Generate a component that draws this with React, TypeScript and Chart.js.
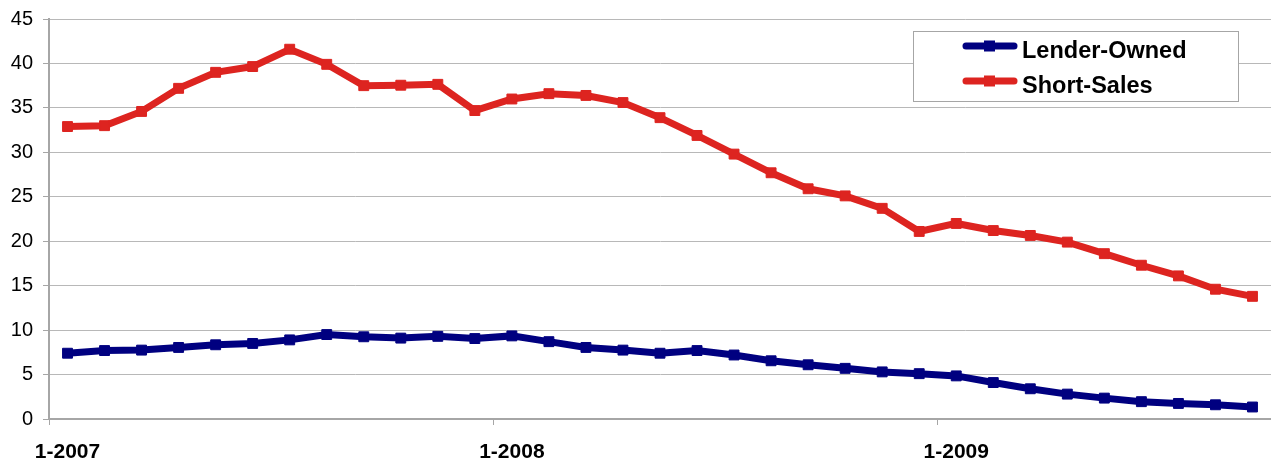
import React, { useEffect, useRef } from 'react';
import { Chart, registerables } from 'chart.js';

Chart.register(...registerables);

const months = [
  '1-2007', '2-2007', '3-2007', '4-2007', '5-2007', '6-2007', '7-2007', '8-2007', '9-2007', '10-2007', '11-2007', '12-2007',
  '1-2008', '2-2008', '3-2008', '4-2008', '5-2008', '6-2008', '7-2008', '8-2008', '9-2008', '10-2008', '11-2008', '12-2008',
  '1-2009', '2-2009', '3-2009', '4-2009', '5-2009', '6-2009', '7-2009', '8-2009', '9-2009',
];

const lenderOwned = [
  7.4, 7.7, 7.75, 8.05, 8.35, 8.5, 8.9, 9.5, 9.25, 9.1, 9.3, 9.05,
  9.35, 8.7, 8.05, 7.75, 7.4, 7.7, 7.2, 6.55, 6.1, 5.7, 5.3, 5.1,
  4.85, 4.1, 3.4, 2.8, 2.35, 1.95, 1.75, 1.6, 1.35,
];

const shortSales = [
  32.9, 33.0, 34.6, 37.2, 39.0, 39.65, 41.6, 39.9, 37.5, 37.55, 37.65, 34.7,
  36.0, 36.6, 36.4, 35.6, 33.9, 31.9, 29.8, 27.7, 25.9, 25.1, 23.7, 21.1,
  22.0, 21.2, 20.65, 19.9, 18.6, 17.3, 16.1, 14.6, 13.8,
];

const shownLabels = ['1-2007', '1-2008', '1-2009'];

const FONT = '"Liberation Sans", Arial, Helvetica, sans-serif';
const AXIS_GRAY = '#a6a6a6';
const GRID_GRAY = '#b8b8b8';

const boxLegend = {
  id: 'boxLegend',
  afterDraw(chart: any) {
    const ctx = chart.ctx;
    ctx.save();
    ctx.fillStyle = '#ffffff';
    ctx.fillRect(913, 31, 326, 71);
    ctx.strokeStyle = AXIS_GRAY;
    ctx.lineWidth = 1;
    ctx.strokeRect(913.5, 31.5, 325, 70);
    chart.data.datasets.forEach((ds: any, i: number) => {
      const y = 46 + i * 35;
      ctx.strokeStyle = ds.borderColor;
      ctx.lineWidth = 7;
      ctx.lineCap = 'round';
      ctx.beginPath();
      ctx.moveTo(966, y);
      ctx.lineTo(1014, y);
      ctx.stroke();
      ctx.fillStyle = ds.borderColor;
      ctx.fillRect(984, y - 5.5, 11, 11);
      ctx.fillStyle = '#000000';
      ctx.font = 'bold 23.5px ' + FONT;
      ctx.textAlign = 'left';
      ctx.textBaseline = 'alphabetic';
      ctx.fillText(ds.label, 1022, y + 12);
    });
    ctx.restore();
  },
};

export default function App() {
  const canvasRef = useRef<HTMLCanvasElement | null>(null);

  useEffect(() => {
    if (!canvasRef.current) return;
    const chart = new Chart(canvasRef.current, {
      type: 'line',
      data: {
        labels: months,
        datasets: [
          {
            label: 'Lender-Owned',
            data: lenderOwned,
            borderColor: '#000080',
            backgroundColor: '#000080',
            borderWidth: 7,
            pointStyle: 'rect',
            pointRadius: 7,
            pointBorderWidth: 1,
            pointBackgroundColor: '#000080',
            pointBorderColor: '#000080',
            tension: 0,
          },
          {
            label: 'Short-Sales',
            data: shortSales,
            borderColor: '#dd2420',
            backgroundColor: '#dd2420',
            borderWidth: 7,
            pointStyle: 'rect',
            pointRadius: 7,
            pointBorderWidth: 1,
            pointBackgroundColor: '#dd2420',
            pointBorderColor: '#dd2420',
            tension: 0,
          },
        ],
      },
      options: {
        responsive: false,
        animation: false,
        layout: { autoPadding: false, padding: { top: 19, left: 0, right: -2, bottom: 0 } },
        plugins: {
          legend: { display: false },
          tooltip: { enabled: false },
        },
        scales: {
          x: {
            type: 'category',
            offset: true,
            grid: {
              offset: true,
              drawOnChartArea: false,
              drawTicks: true,
              tickLength: 6,
              color: (ctx: any) => (ctx.index % 12 === 0 ? AXIS_GRAY : 'rgba(0,0,0,0)'),
            },
            border: { display: true, color: AXIS_GRAY, width: 2 },
            ticks: {
              autoSkip: false,
              maxRotation: 0,
              minRotation: 0,
              padding: 15,
              color: '#000000',
              font: { family: FONT, size: 21, weight: 'bold' },
              callback: function (this: any, value: any) {
                const lab = months[value as number];
                return shownLabels.includes(lab) ? lab : '';
              },
            },
            afterFit: (scale: any) => {
              scale.height = 43;
              scale.paddingLeft = 0;
              scale.paddingRight = 0;
            },
          },
          y: {
            min: 0,
            max: 45,
            ticks: {
              stepSize: 5,
              padding: 10,
              color: '#000000',
              font: { family: FONT, size: 20 },
            },
            grid: {
              color: GRID_GRAY,
              lineWidth: 1,
              drawTicks: true,
              tickLength: 6,
              tickColor: AXIS_GRAY,
            },
            border: { display: true, color: AXIS_GRAY, width: 2 },
            afterFit: (scale: any) => {
              scale.width = 49;
              scale.paddingTop = 0;
              scale.paddingBottom = 0;
            },
          },
        },
      },
      plugins: [boxLegend],
    } as any);
    return () => chart.destroy();
  }, []);

  return (
    <div style={{ position: 'absolute', left: 0, top: 0, width: 1271, height: 462, background: '#ffffff' }}>
      <canvas ref={canvasRef} width={1271} height={462} style={{ display: 'block' }} />
    </div>
  );
}
